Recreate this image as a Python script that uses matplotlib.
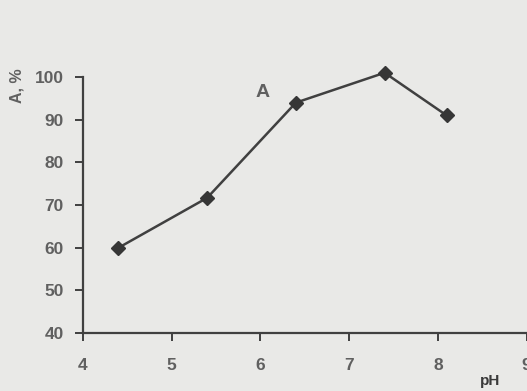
import matplotlib.pyplot as plt

# activity vs pH
ph = [4.4, 5.4, 6.4, 7.4, 8.1]
activity = [60, 71.7, 94, 101, 91]
x_ticks = [4, 5, 6, 7, 8, 9]
y_ticks = [40, 50, 60, 70, 80, 90, 100]

bg = "#e9e9e7"
ink = "#404040"
label_col = "#606060"

plt.rcParams['font.family'] = ['Liberation Sans', 'DejaVu Sans']

fig = plt.figure(figsize=(5.27, 3.91), dpi=100, facecolor=bg)
ax = fig.add_axes([0.1575, 0.148, 0.845, 0.655])
ax.set_facecolor(bg)

ax.plot(ph, activity, color=ink, lw=1.8, marker='D', markersize=7,
        markerfacecolor="#363636", markeredgecolor="#363636", clip_on=False, zorder=3)

ax.set_xlim(4, 9.02)
ax.set_ylim(40, 100)
ax.set_xticks(x_ticks)
ax.set_yticks(y_ticks)

for s in ['top', 'right']:
    ax.spines[s].set_visible(False)
for s in ['left', 'bottom']:
    ax.spines[s].set_color(ink)
    ax.spines[s].set_linewidth(1.6)

ax.tick_params(axis='both', direction='out', length=6, width=1.4, color=ink,
               labelcolor=label_col, labelsize=12.5)
ax.tick_params(axis='x', pad=12)
ax.tick_params(axis='y', pad=8)
for lab in ax.get_xticklabels() + ax.get_yticklabels():
    lab.set_fontweight('bold')

fig.text(0.032, 0.78, "A, %", rotation=90, ha='center', va='center',
         fontsize=11.5, color=label_col, fontweight='bold')
ax.text(6.02, 96.3, "A", fontsize=14, color=label_col, fontweight='bold',
        ha='center', va='center')
fig.text(0.93, 0.026, "pH", fontsize=11, color="#3a3a3a", fontweight='bold',
         ha='center', va='center')

fig.savefig("out.png", dpi=100, facecolor=bg)
